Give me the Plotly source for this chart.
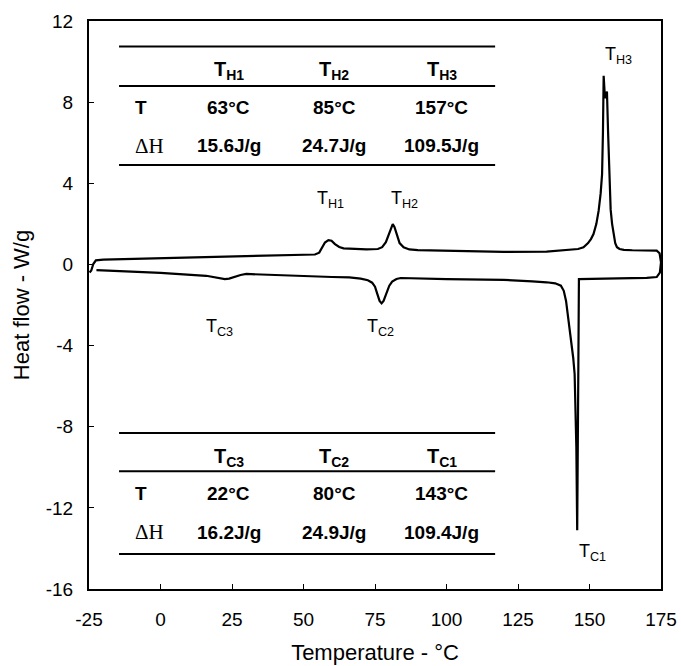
import plotly.graph_objects as go

# Heating scan (upper trace), temperature in °C and heat flow in W/g
heat_temp = [-24.8, -24.2, -23.5, -22.6, -20, 0, 25, 50, 54, 55.5, 56.5, 57.5,
             58.7, 59.8, 61, 62.5, 64, 67, 72, 76, 77.5, 78.8, 79.8, 80.6, 81.2,
             81.8, 82.6, 83.6, 85, 87, 90, 100, 120, 135, 144.4, 146, 147.9,
             149.5, 150.5, 151.4, 152.4, 153.2, 153.9, 154.4, 154.7, 154.95,
             155.4, 156.1, 156.5, 157.0, 157.4, 157.9, 158.5, 159.0, 159.6,
             160.5, 162, 165, 173.5, 174.5, 175.0]
heat_flow = [-0.40, -0.30, 0.02, 0.20, 0.24, 0.30, 0.38, 0.46, 0.49, 0.58, 0.85,
             1.08, 1.20, 1.17, 1.00, 0.86, 0.79, 0.76, 0.74, 0.76, 0.85, 1.10,
             1.50, 1.85, 1.99, 1.85, 1.45, 1.05, 0.85, 0.74, 0.71, 0.67, 0.62,
             0.63, 0.71, 0.76, 0.84, 1.05, 1.25, 1.50, 2.00, 2.65, 3.50, 4.45,
             6.50, 9.30, 8.20, 8.52, 6.50, 4.00, 2.70, 2.00, 1.40, 1.05, 0.85,
             0.76, 0.72, 0.70, 0.68, 0.55, 0.10]

# Cooling scan (lower trace)
cool_temp = [175.0, 174.6, 173.5, 170, 160, 150, 146.3, 146.1, 145.9, 145.7,
             145.4, 145.1, 144.8, 144.3, 143.9, 143.6, 143.2, 142.5, 141.8, 141,
             140, 138, 135, 130, 120, 100, 90, 84, 82.5, 81, 80, 79, 78, 77.3,
             76.6, 75.8, 75, 74, 72.5, 70, 66, 60, 40, 30, 28, 26, 24, 22.5, 21,
             19, 16, 0, -22.4]
cool_flow = [0.10, -0.40, -0.62, -0.66, -0.69, -0.71, -0.72, -5.0, -10.0, -13.1,
             -9.0, -6.5, -5.4, -4.6, -4.1, -3.8, -3.5, -2.6, -1.8, -1.3, -1.05,
             -0.93, -0.88, -0.84, -0.76, -0.72, -0.68, -0.67, -0.72, -0.85,
             -1.05, -1.40, -1.80, -1.92, -1.80, -1.45, -1.10, -0.90, -0.78,
             -0.70, -0.64, -0.62, -0.53, -0.47, -0.52, -0.62, -0.70, -0.72,
             -0.68, -0.62, -0.56, -0.42, -0.28]

# Axis ticks
x_ticks = [-25, 0, 25, 50, 75, 100, 125, 150, 175]
x_tick_text = ["-25", "0", "25", "50", "75", "100", "125", "150", "175"]
y_ticks = [-16, -12, -8, -4, 0, 4, 8, 12]
y_tick_text = ["-16", "-12", "-8", "-4", "0", "4", "8", "12"]

# Peak labels
peak_names = ["H1", "H2", "H3", "C3", "C2", "C1"]
peak_label_x = [59.4, 85.2, 160.2, 20.8, 76.8, 151.0]
peak_label_y = [3.2, 3.2, 10.3, -3.1, -3.1, -14.2]

# Tables
heat_cols = ["H1", "H2", "H3"]
heat_T = ["63°C", "85°C", "157°C"]
heat_dH = ["15.6J/g", "24.7J/g", "109.5J/g"]
cool_cols = ["C3", "C2", "C1"]
cool_T = ["22°C", "80°C", "143°C"]
cool_dH = ["16.2J/g", "24.9J/g", "109.4J/g"]

sans = "Liberation Sans, Arial, sans-serif"
serif = "Liberation Serif, Times New Roman, serif"

fig = go.Figure()
fig.add_trace(go.Scatter(x=heat_temp + cool_temp, y=heat_flow + cool_flow,
                         mode="lines", line=dict(color="black", width=2.2),
                         showlegend=False, hoverinfo="skip"))

for name, px_, py_ in zip(peak_names, peak_label_x, peak_label_y):
    fig.add_annotation(x=px_, y=py_, xref="x", yref="y", showarrow=False,
                       text="T<sub>" + name + "</sub>",
                       font=dict(family=sans, size=18, color="black"))


def add_table(cols, t_vals, dh_vals, lines_y, rows_y):
    # rules of the table
    for ly in lines_y:
        fig.add_shape(type="line", xref="x", yref="y", x0=-14.5, x1=117.0,
                      y0=ly, y1=ly, line=dict(color="black", width=2))
    col_x = [23.9, 60.7, 98.4]
    for cx, c, tv, dv in zip(col_x, cols, t_vals, dh_vals):
        fig.add_annotation(x=cx, y=rows_y[0], xref="x", yref="y", showarrow=False,
                           text="<b>T<sub>" + c + "</sub></b>",
                           font=dict(family=sans, size=20, color="black"))
        fig.add_annotation(x=cx, y=rows_y[1], xref="x", yref="y", showarrow=False,
                           text="<b>" + tv + "</b>",
                           font=dict(family=sans, size=19, color="black"))
        fig.add_annotation(x=cx, y=rows_y[2], xref="x", yref="y", showarrow=False,
                           text="<b>" + dv + "</b>",
                           font=dict(family=sans, size=19, color="black"))
    fig.add_annotation(x=-9.6, y=rows_y[1], xref="x", yref="y", showarrow=False,
                       xanchor="left", text="<b>T</b>",
                       font=dict(family=sans, size=19, color="black"))
    fig.add_annotation(x=-9.6, y=rows_y[2], xref="x", yref="y", showarrow=False,
                       xanchor="left", text="ΔH",
                       font=dict(family=serif, size=21, color="black"))


add_table(heat_cols, heat_T, heat_dH, [10.74, 8.80, 4.90], [9.54, 7.73, 5.85])
add_table(cool_cols, cool_T, cool_dH, [-8.31, -10.20, -14.27], [-9.51, -11.31, -13.20])

axis_common = dict(showline=True, linecolor="black", linewidth=2, mirror=True,
                   ticks="inside", ticklen=5, tickwidth=1, tickcolor="black",
                   showgrid=False, zeroline=False, automargin=False,
                   tickfont=dict(family=sans, size=19, color="black"))

fig.update_layout(
    width=681, height=666,
    margin=dict(l=89, r=20, t=21, b=77),
    paper_bgcolor="white", plot_bgcolor="white",
    xaxis=dict(range=[-25, 175], tickvals=x_ticks, ticktext=x_tick_text,
               title=dict(text="Temperature - °C", standoff=16,
                          font=dict(family=sans, size=22, color="black")),
               ticklabelstandoff=12, **axis_common),
    yaxis=dict(range=[-16, 12], tickvals=y_ticks, ticktext=y_tick_text,
               title=dict(text="Heat flow - W/g", standoff=10,
                          font=dict(family=sans, size=22, color="black")),
               ticklabelstandoff=10, **axis_common),
)

# drop the default page margin so the figure fills the window exactly
fig.write_html("out.html", config={"displayModeBar": False},
               post_script="document.body.style.margin='0';document.body.style.overflow='hidden';")
